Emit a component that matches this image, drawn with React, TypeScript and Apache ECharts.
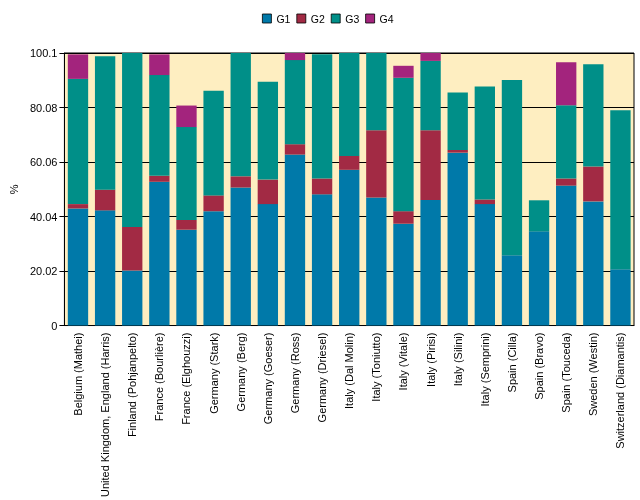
import React, { useEffect, useRef } from "react";
import * as echarts from "echarts";

const categories = [
  "Belgium (Mathei)",
  "United Kingdom, England (Harris)",
  "Finland (Pohjanpelto)",
  "France (Bourlière)",
  "France (Elghouzzi)",
  "Germany (Stark)",
  "Germany (Berg)",
  "Germany (Goeser)",
  "Germany (Ross)",
  "Germany (Driesel)",
  "Italy (Dal Molin)",
  "Italy (Toniutto)",
  "Italy (Vitale)",
  "Italy (Pirisi)",
  "Italy (Silini)",
  "Italy (Semprini)",
  "Spain (Cilla)",
  "Spain (Bravo)",
  "Spain (Touceda)",
  "Sweden (Westin)",
  "Switzerland (Diamantis)",
];

const g1 = [43.0, 42.3, 20.2, 52.8, 35.2, 42.0, 50.7, 44.6, 62.8, 48.2, 57.2, 47.0, 37.4, 46.1, 63.5, 44.6, 25.8, 34.6, 51.4, 45.6, 20.7];
const g2 = [1.6, 7.6, 16.0, 2.2, 3.6, 5.8, 4.1, 9.0, 3.8, 5.8, 5.1, 24.7, 4.6, 25.6, 1.0, 1.7, 0, 0, 2.6, 12.8, 0];
const g3 = [46.0, 49.0, 63.9, 37.0, 34.1, 38.4, 45.3, 35.9, 30.9, 45.6, 37.8, 28.4, 49.0, 25.5, 21.1, 41.5, 64.4, 11.4, 26.9, 37.6, 58.4];
const g4 = [9.0, 0, 0, 7.6, 7.9, 0, 0, 0, 2.6, 0, 0, 0, 4.4, 2.9, 0, 0, 0, 0, 15.8, 0, 0];

const seriesNames = ["G1", "G2", "G3", "G4"];
const seriesColors = ["#0079A9", "#A22A44", "#008F88", "#A3247D"];
const yTicks = [0, 20.02, 40.04, 60.06, 80.08, 100.1];

export default function App() {
  const ref = useRef<HTMLDivElement>(null);
  useEffect(() => {
    if (!ref.current) return;
    const chart = echarts.init(ref.current, undefined, { renderer: "svg" });
    const font = "'Liberation Sans', Arial, sans-serif";
    const data = [g1, g2, g3, g4];
    chart.setOption({
      animation: false,
      textStyle: { fontFamily: font },
      legend: {
        top: 13,
        left: 262,
        itemWidth: 9,
        itemHeight: 9,
        itemGap: 6,
        icon: "rect",
        padding: 0,
        textStyle: { fontSize: 10.5, color: "#000", fontFamily: font },
        data: seriesNames.map((n, i) => ({
          name: n,
          itemStyle: { color: seriesColors[i], borderColor: "#000", borderWidth: 0.8 },
        })),
      },
      grid: {
        left: 55,
        right: 6,
        top: 53,
        bottom: 171,
        show: true,
        backgroundColor: "#FEEEC1",
        borderColor: "#000",
        borderWidth: 1,
      },
      xAxis: {
        type: "category",
        data: categories,
        axisLine: { lineStyle: { color: "#000" } },
        axisTick: { alignWithLabel: true, length: 5, lineStyle: { color: "#000" } },
        axisLabel: {
          rotate: 90,
          interval: 0,
          fontSize: 11,
          color: "#000",
          margin: 7,
          fontFamily: font,
        },
      },
      yAxis: {
        type: "value",
        min: 0,
        max: yTicks[yTicks.length - 1],
        interval: yTicks[1],
        name: "%",
        nameLocation: "middle",
        nameRotate: 90,
        nameGap: 40,
        nameTextStyle: { fontSize: 11, color: "#000", fontFamily: font },
        axisLine: { show: true, lineStyle: { color: "#000" } },
        axisTick: { show: true, length: 5, lineStyle: { color: "#000" } },
        axisLabel: {
          fontSize: 11,
          color: "#000",
          margin: 7,
          fontFamily: font,
          formatter: (v: number) => String(Math.round(v * 100) / 100),
        },
        splitLine: { show: true, lineStyle: { color: "#000", width: 1 } },
      },
      series: seriesNames.map((n, i) => ({
        name: n,
        type: "bar",
        stack: "total",
        barWidth: "75%",
        itemStyle: { color: seriesColors[i] },
        data: data[i],
      })),
    });
    return () => chart.dispose();
  }, []);
  return (
    <div
      ref={ref}
      style={{ position: "fixed", left: 0, top: 0, width: 640, height: 500 }}
    />
  );
}
